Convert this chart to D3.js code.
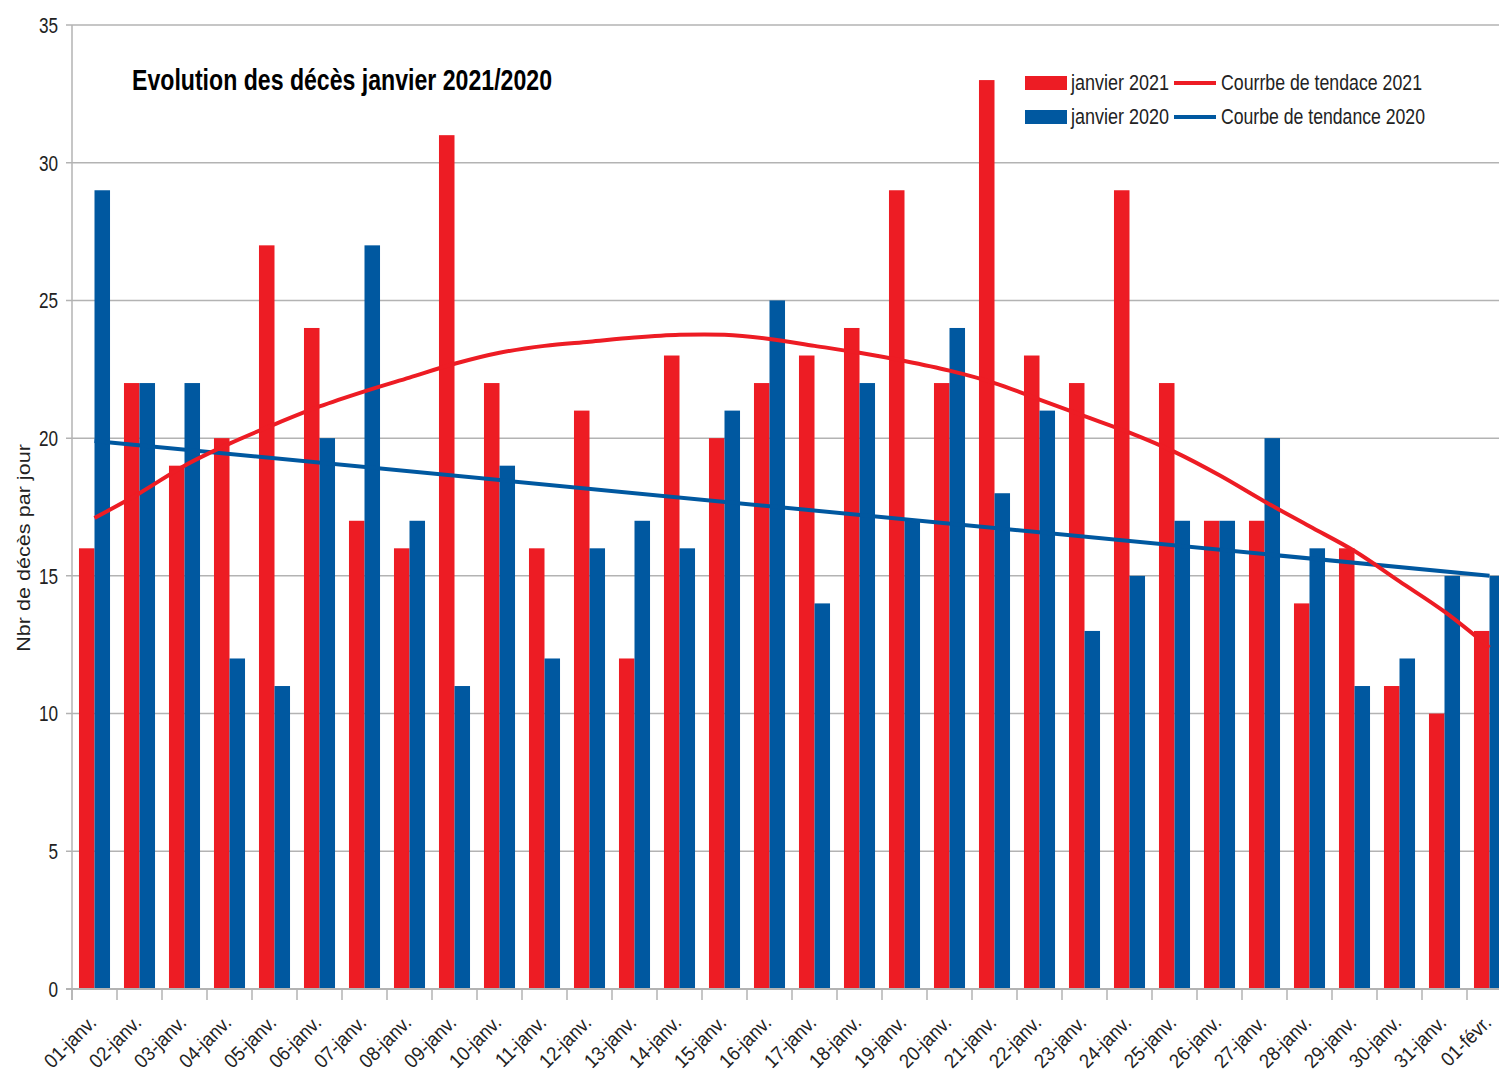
<!DOCTYPE html>
<html>
<head>
<meta charset="utf-8">
<script src="https://cdn.jsdelivr.net/npm/d3@7"></script>
<style>
  body { margin: 0; background: #fff; }
  text { font-family: "Liberation Sans", Arial, sans-serif; fill: #000; }
</style>
</head>
<body>
<script>
const width = 1499
const height = 1079

// Data
const jours = ['01-janv.', '02-janv.', '03-janv.', '04-janv.', '05-janv.', '06-janv.', '07-janv.', '08-janv.',
  '09-janv.', '10-janv.', '11-janv.', '12-janv.', '13-janv.', '14-janv.', '15-janv.', '16-janv.',
  '17-janv.', '18-janv.', '19-janv.', '20-janv.', '21-janv.', '22-janv.', '23-janv.', '24-janv.',
  '25-janv.', '26-janv.', '27-janv.', '28-janv.', '29-janv.', '30-janv.', '31-janv.', '01-févr.'];
const deces2021 = [16, 22, 19, 20, 27, 24, 17, 16, 31, 22, 16, 21, 12, 23, 20, 22,
  23, 24, 29, 22, 33, 23, 22, 29, 22, 17, 17, 14, 16, 11, 10, 13];
const deces2020 = [29, 22, 22, 12, 11, 20, 27, 17, 11, 19, 12, 16, 17, 16, 21, 25,
  14, 22, 17, 24, 18, 21, 13, 15, 17, 17, 20, 16, 11, 12, 15, 15];
// trend curves as read at each day
const tendance2021 = [17.1, 18.0, 19.0, 19.8, 20.5, 21.15, 21.7, 22.2, 22.7, 23.1, 23.35, 23.5, 23.65, 23.75, 23.75, 23.6,
  23.35, 23.1, 22.8, 22.45, 22.0, 21.4, 20.8, 20.2, 19.5, 18.65, 17.7, 16.8, 15.9, 14.8, 13.7, 12.4];
const tendance2020 = [19.9, 15.0]; // straight line, first day -> last day
const yTicks = [0, 5, 10, 15, 20, 25, 30, 35];

const rouge = "#ed1c24";
const bleu = "#0058a0";
const grille = "#b3b3b3";

const svg = d3.select("body").append("svg")
    .attr("width", width)
    .attr("height", height)
    .style("display", "block");

// squeeze text to look like the narrow font of the original
function condense(sel, factor) {
  sel.each(function () {
    const w = this.getComputedTextLength();
    d3.select(this).attr("textLength", w * factor).attr("lengthAdjust", "spacingAndGlyphs");
  });
}

const plotLeft = 72, plotRight = 1512, plotTop = 25, plotBottom = 989;

const x = d3.scaleBand()
    .domain(jours)
    .range([plotLeft, plotRight])
    .paddingInner(0.31)
    .paddingOuter(0.155);
const step = x.step();

const x1 = d3.scaleBand()
    .domain(['2021', '2020'])
    .range([0, x.bandwidth()]);

const y = d3.scaleLinear()
    .domain([0, 35])
    .range([plotBottom, plotTop]);

// Gridlines
svg.append("g")
  .selectAll("line")
  .data(yTicks)
  .enter()
  .append("line")
    .attr("x1", plotLeft - 6)
    .attr("x2", width)
    .attr("y1", d => y(d))
    .attr("y2", d => y(d))
    .attr("stroke", grille)
    .attr("stroke-width", 1.5);

// Y axis line
svg.append("line")
    .attr("x1", plotLeft).attr("x2", plotLeft)
    .attr("y1", y(35)).attr("y2", plotBottom + 11)
    .attr("stroke", grille).attr("stroke-width", 1.5);

// Y tick labels
svg.append("g")
  .selectAll("text")
  .data(yTicks)
  .enter()
  .append("text")
    .attr("x", 58)
    .attr("y", d => y(d))
    .attr("dy", "0.36em")
    .attr("text-anchor", "end")
    .style("font-size", "22px")
    .style("fill", "#222")
    .text(d => d)
    .call(condense, 0.78);

// Y title
svg.append("text")
    .attr("transform", "translate(30,548) rotate(-90)")
    .attr("text-anchor", "middle")
    .style("font-size", "18px")
    .style("fill", "#222")
    .text("Nbr de décès par jour")
    .call(condense, 1.2);

// Bars
const groups = svg.append("g")
  .selectAll("g")
  .data(jours.map((j, i) => ({ jour: j, v2021: deces2021[i], v2020: deces2020[i] })))
  .enter()
  .append("g")
    .attr("transform", d => `translate(${x(d.jour)},0)`);

groups.append("rect")
    .attr("x", x1('2021'))
    .attr("width", x1.bandwidth())
    .attr("y", d => y(d.v2021))
    .attr("height", d => plotBottom - y(d.v2021))
    .attr("fill", rouge);

groups.append("rect")
    .attr("x", x1('2020'))
    .attr("width", x1.bandwidth())
    .attr("y", d => y(d.v2020))
    .attr("height", d => plotBottom - y(d.v2020))
    .attr("fill", bleu);

// X axis baseline + ticks
svg.append("line")
    .attr("x1", plotLeft - 6).attr("x2", width)
    .attr("y1", plotBottom).attr("y2", plotBottom)
    .attr("stroke", grille).attr("stroke-width", 2);

svg.append("g")
  .selectAll("line")
  .data(d3.range(jours.length + 1))
  .enter()
  .append("line")
    .attr("x1", i => plotLeft + i * step)
    .attr("x2", i => plotLeft + i * step)
    .attr("y1", plotBottom)
    .attr("y2", plotBottom + 11)
    .attr("stroke", grille)
    .attr("stroke-width", 1.5);

// X labels
svg.append("g")
  .selectAll("text")
  .data(jours)
  .enter()
  .append("text")
    .attr("transform", d => `translate(${x(d) + x.bandwidth() / 2 + 3},1024) rotate(-45)`)
    .attr("text-anchor", "end")
    .style("font-size", "20px")
    .style("fill", "#222")
    .text(d => d)
    .call(condense, 0.92);

// Trend lines
const centre = d => x(d) + x.bandwidth() / 2;

const line = d3.line()
    .x(d => centre(d.jour))
    .y(d => y(d.v))
    .curve(d3.curveCatmullRom);

svg.append("path")
    .datum([
      { jour: jours[0], v: tendance2020[0] },
      { jour: jours[jours.length - 1], v: tendance2020[1] }
    ])
    .attr("d", line)
    .attr("fill", "none")
    .attr("stroke", bleu)
    .attr("stroke-width", 4);

svg.append("path")
    .datum(jours.map((j, i) => ({ jour: j, v: tendance2021[i] })))
    .attr("d", line)
    .attr("fill", "none")
    .attr("stroke", rouge)
    .attr("stroke-width", 4);

// Title
svg.append("text")
    .attr("x", 132)
    .attr("y", 90)
    .style("font-size", "29px")
    .style("font-weight", "bold")
    .attr("textLength", 420)
    .attr("lengthAdjust", "spacingAndGlyphs")
    .text("Evolution des décès janvier 2021/2020");

// Legend
const legende = [
  { label: "janvier 2021", color: rouge, type: "rect", col: 0, row: 0, w: 98 },
  { label: "Courrbe de tendace 2021", color: rouge, type: "line", col: 1, row: 0, w: 201 },
  { label: "janvier 2020", color: bleu, type: "rect", col: 0, row: 1, w: 98 },
  { label: "Courbe de tendance 2020", color: bleu, type: "line", col: 1, row: 1, w: 204 }
];

const leg = svg.append("g")
  .selectAll("g")
  .data(legende)
  .enter()
  .append("g")
    .attr("transform", d => `translate(${d.col === 0 ? 1025 : 1174},${d.row === 0 ? 83 : 117})`);

leg.filter(d => d.type === "rect")
  .append("rect")
    .attr("x", 0).attr("y", -7)
    .attr("width", 42).attr("height", 14)
    .attr("fill", d => d.color);

leg.filter(d => d.type === "line")
  .append("line")
    .attr("x1", 0).attr("x2", 42)
    .attr("y1", 0).attr("y2", 0)
    .attr("stroke", d => d.color)
    .attr("stroke-width", 4);

leg.append("text")
    .attr("x", d => d.col === 0 ? 46 : 47)
    .attr("y", 7)
    .style("font-size", "22px")
    .style("fill", "#222")
    .attr("textLength", d => d.w)
    .attr("lengthAdjust", "spacingAndGlyphs")
    .text(d => d.label);
</script>
</body>
</html>
